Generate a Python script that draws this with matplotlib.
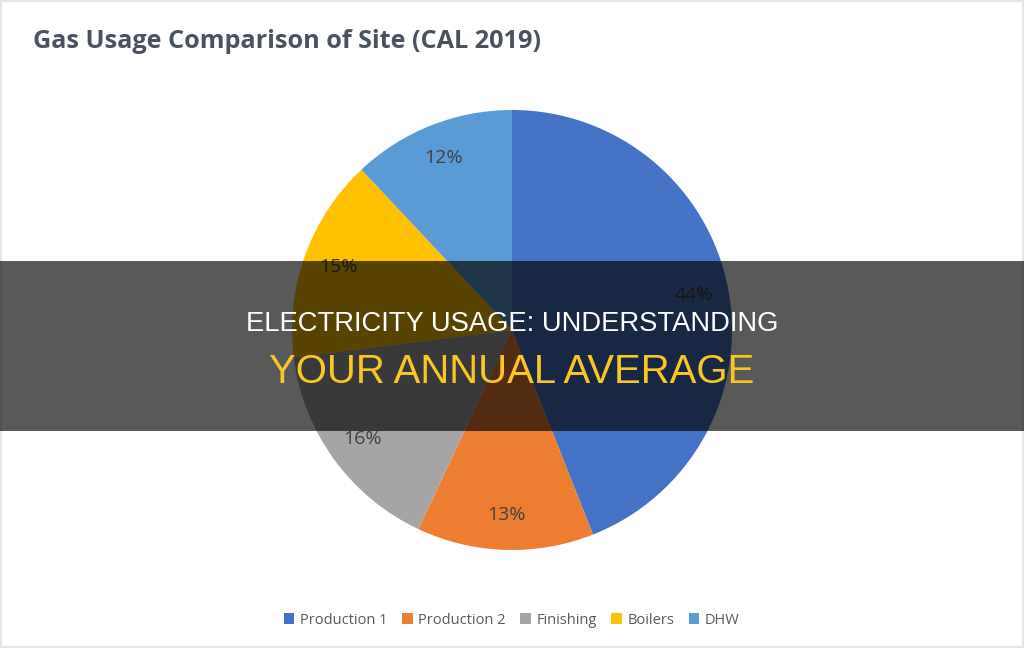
import matplotlib.pyplot as plt
from matplotlib.patches import Rectangle

# gas usage shares, CAL 2019
categories = ["Production 1", "Production 2", "Finishing", "Boilers", "DHW"]
shares = [44, 13, 16, 15, 12]
colors = ["#4472c4", "#ed7d31", "#a5a5a5", "#ffc000", "#5b9bd5"]

title = "Gas Usage Comparison of Site (CAL 2019)"
banner_top = "ELECTRICITY USAGE: UNDERSTANDING"
banner_bottom = "YOUR ANNUAL AVERAGE"

W, H = 1024, 648
fig = plt.figure(figsize=(W / 100, H / 100), dpi=100)

# pie centred at (512, 330) px with radius 220 px
cx, cy, r = 512, 330, 220
ax = fig.add_axes([(cx - r) / W, (H - cy - r) / H, 2 * r / W, 2 * r / H])
wedges, texts, autotexts = ax.pie(
    shares, colors=colors, startangle=90, counterclock=False,
    autopct="%d%%", pctdistance=0.84,
    wedgeprops=dict(linewidth=0),
    textprops=dict(color="#404040", fontsize=14, family="Open Sans"))
ax.set_xlim(-1, 1)
ax.set_ylim(-1, 1)
ax.set_aspect("equal")

fig.text(33 / W, 1 - 41 / H, title, ha="left", va="center",
         fontsize=18.2, fontweight="bold", color="#4a5260", family="Open Sans")

fig.legend(wedges, categories, loc="center", bbox_to_anchor=(0.5, 1 - 620 / H),
           ncol=5, frameon=False, handlelength=0.7, handleheight=0.7,
           handletextpad=0.4, columnspacing=1.0,
           prop=dict(family="Open Sans", size=10.5), labelcolor="#595959")

# light frame round the picture
fig.add_artist(Rectangle((0, 0), 1, 1, transform=fig.transFigure, fill=False,
                         edgecolor="#e6e6e6", linewidth=3, zorder=5))

# dark banner with headline
b0, b1 = 1 - 431 / H, 1 - 261 / H
fig.add_artist(Rectangle((0, b0), 1, b1 - b0, transform=fig.transFigure,
                         facecolor="black", alpha=0.65, linewidth=0, zorder=10))
fig.text(0.5, 1 - 324 / H, banner_top, ha="center", va="center", color="white",
         fontsize=19.7, family="Liberation Sans", zorder=11)
fig.text(0.5, 1 - 372 / H, banner_bottom, ha="center", va="center", color="#f9c623",
         fontsize=28.9, family="Liberation Sans", zorder=11)

fig.savefig("out.png", dpi=100)
